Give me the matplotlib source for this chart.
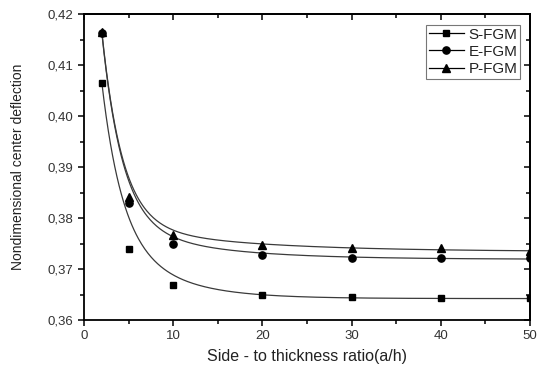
import numpy as np
import matplotlib.pyplot as plt
from matplotlib.ticker import MultipleLocator, FuncFormatter

# side-to-thickness ratio a/h
ratio = [2, 5, 10, 20, 30, 40, 50]

# nondimensional center deflection for each FGM type
s_fgm = [0.4065, 0.3740, 0.3669, 0.3649, 0.3646, 0.3644, 0.3644]
e_fgm = [0.4163, 0.3829, 0.3749, 0.3727, 0.3722, 0.3722, 0.3721]
p_fgm = [0.4165, 0.3842, 0.3767, 0.3747, 0.3741, 0.3741, 0.3736]

# second order exponential decay fits: y0, A1, t1, A2, t2
s_fit = [0.3642, 0.0682, 2.2, 0.0207, 6.0]
e_fit = [0.3719, 0.0885, 2.3, 0.0089, 10.0]
p_fit = [0.3734, 0.0899, 2.3, 0.00625, 14.0]

labels = ["S-FGM", "E-FGM", "P-FGM"]
markers = ["s", "o", "^"]
msizes = [5, 5.2, 6]


def exp_dec2(x, p):
    y0, a1, t1, a2, t2 = p
    return y0 + a1 * np.exp(-x / t1) + a2 * np.exp(-x / t2)


plt.rcParams['font.family'] = ['Liberation Sans', 'DejaVu Sans']

fig = plt.figure(figsize=(5.42, 3.72), dpi=100)
ax = fig.add_axes([84 / 542, 1 - 320 / 372, 446 / 542, 306 / 372])

xs = np.linspace(2, 50, 400)
for data, fit, mk, ms in zip([s_fgm, e_fgm, p_fgm], [s_fit, e_fit, p_fit], markers, msizes):
    ax.plot(xs, exp_dec2(xs, fit), color='#3a3a3a', lw=0.9, zorder=2)
    ax.plot(ratio, data, linestyle='none', marker=mk, color='black',
            markersize=ms, zorder=3)

# legend handles: line through marker
handles = [plt.Line2D([], [], color='black', lw=0.9, marker=mk, markersize=ms)
           for mk, ms in zip(markers, msizes)]
leg = ax.legend(handles, labels, loc='upper right', bbox_to_anchor=(0.985, 0.975),
                fontsize=11, frameon=True, fancybox=False, handlelength=2.3,
                handletextpad=0.3, borderpad=0.2, labelspacing=0.2,
                borderaxespad=0.2)
leg.get_frame().set_edgecolor('#555555')
leg.get_frame().set_linewidth(0.8)
for t in leg.get_texts():
    t.set_color('#222222')

ax.set_xlim(0, 50)
ax.set_ylim(0.36, 0.42)
ax.xaxis.set_major_locator(MultipleLocator(10))
ax.xaxis.set_minor_locator(MultipleLocator(5))
ax.yaxis.set_major_locator(MultipleLocator(0.01))
ax.yaxis.set_minor_locator(MultipleLocator(0.005))
ax.yaxis.set_major_formatter(FuncFormatter(lambda v, pos: f"{v:.2f}".replace('.', ',')))

ax.tick_params(which='both', direction='out', width=1.1, colors='black',
               labelcolor='#333333', labelsize=9.5)
ax.tick_params(which='major', length=4.5, pad=3)
ax.tick_params(which='minor', length=3)
for sp in ax.spines.values():
    sp.set_linewidth(1.3)

# mirrored ticks on top and right point into the plot
top = ax.secondary_xaxis('top')
top.xaxis.set_major_locator(MultipleLocator(10))
top.xaxis.set_minor_locator(MultipleLocator(5))
top.tick_params(which='both', direction='in', width=1.1, labeltop=False)
top.tick_params(which='major', length=4.5)
top.tick_params(which='minor', length=3)
right = ax.secondary_yaxis('right')
right.yaxis.set_major_locator(MultipleLocator(0.01))
right.yaxis.set_minor_locator(MultipleLocator(0.005))
right.tick_params(which='both', direction='in', width=1.1, labelright=False)
right.tick_params(which='major', length=4.5)
right.tick_params(which='minor', length=3)
for sec in (top, right):
    for sp in sec.spines.values():
        sp.set_linewidth(1.3)

ax.set_xlabel("Side - to thickness ratio(a/h)", fontsize=11.5, color='#222222', labelpad=5)
ax.set_ylabel("Nondimensional center deflection", fontsize=10, color='#222222', labelpad=16)

fig.savefig("out.png", dpi=100)
